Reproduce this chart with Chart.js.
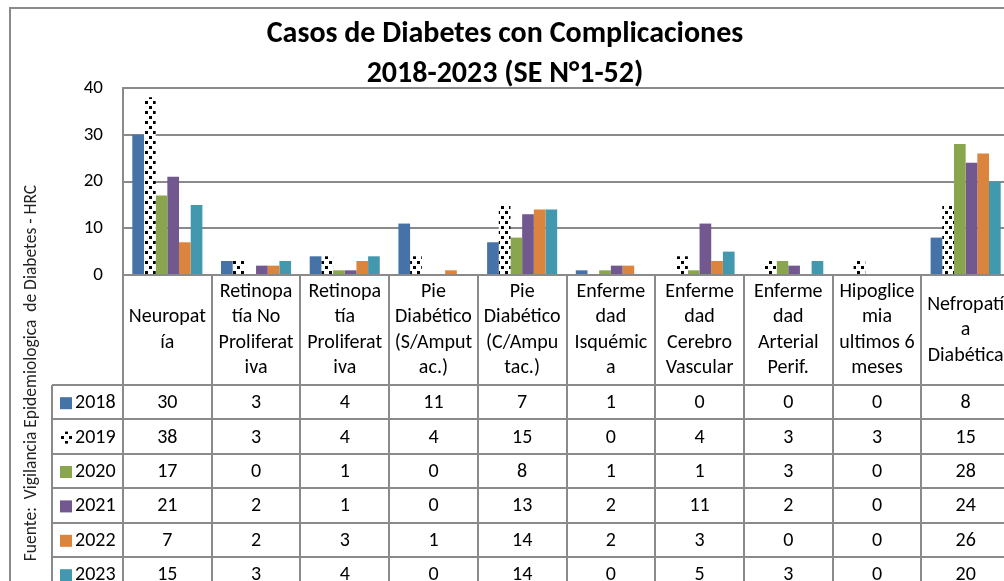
<!DOCTYPE html>
<html>
<head>
<meta charset="utf-8">
<style>
  html, body { margin: 0; padding: 0; overflow: hidden; background: #fff; }
  #wrap { position: absolute; left: 0; top: 0; width: 1040px; height: 600px; }
</style>
</head>
<body>
<div id="wrap">
	<canvas id="diabChart" width="1040" height="600"></canvas>
</div>

<script src="https://cdn.jsdelivr.net/npm/chart.js@4.4.1/dist/chart.umd.min.js"></script>

<script>
	// categories (header row of the data table, already split in lines like the original)
	const categories = [
		["Neuropat", "ía"],
		["Retinopa", "tía No", "Proliferat", "iva"],
		["Retinopa", "tía", "Proliferat", "iva"],
		["Pie", "Diabético", "(S/Amput", "ac.)"],
		["Pie", "Diabético", "(C/Ampu", "tac.)"],
		["Enferme", "dad", "Isquémic", "a"],
		["Enferme", "dad", "Cerebro", "Vascular"],
		["Enferme", "dad", "Arterial", "Perif."],
		["Hipoglice", "mia", "ultimos 6", "meses"],
		["Nefropatí", "a", "Diabética"]
	]

	const years = ["2018", "2019", "2020", "2021", "2022", "2023"]

	const y2018 = [30, 3, 4, 11, 7, 1, 0, 0, 0, 8]
	const y2019 = [38, 3, 4, 4, 15, 0, 4, 3, 3, 15]
	const y2020 = [17, 0, 1, 0, 8, 1, 1, 3, 0, 28]
	const y2021 = [21, 2, 1, 0, 13, 2, 11, 2, 0, 24]
	const y2022 = [7, 2, 3, 1, 14, 2, 3, 0, 0, 26]
	const y2023 = [15, 3, 4, 0, 14, 0, 5, 3, 0, 20]

	const yTicks = [0, 10, 20, 30, 40]

	const FONT = "Carlito, Lato, 'Open Sans', sans-serif"

	// black "confetti" dots on white, used for 2019
	function confetti() {
		const c = document.createElement("canvas")
		c.width = 8
		c.height = 10
		const g = c.getContext("2d")
		g.fillStyle = "#fff"
		g.fillRect(0, 0, 8, 10)
		g.fillStyle = "#000"
		g.fillRect(1, 1, 3, 3)
		g.fillRect(5, 6, 3, 3)
		return g.createPattern(c, "repeat")
	}
	const dots = confetti()

	const colours = ["#4572A7", dots, "#89A54E", "#71588F", "#DB843D", "#4198AF"]
	const series = [y2018, y2019, y2020, y2021, y2022, y2023]

	// frame, side note and the data table under the plot
	const tablePlugin = {
		id: "dataTable",
		beforeDraw(chart) {
			const ctx = chart.ctx
			ctx.save()
			ctx.fillStyle = "#fff"
			ctx.fillRect(0, 0, chart.width, chart.height)
			ctx.strokeStyle = "#8a8a8a"
			ctx.lineWidth = 2
			ctx.beginPath()
			ctx.moveTo(10, chart.height)
			ctx.lineTo(10, 8)
			ctx.lineTo(chart.width, 8)
			ctx.stroke()
			ctx.restore()
		},
		afterDraw(chart) {
			const ctx = chart.ctx
			const area = chart.chartArea
			const x = chart.scales.x
			const n = categories.length
			const colW = (area.right - area.left) / n
			const headTop = area.bottom
			const headBot = 385
			const rowH = 34.4
			const legLeft = 52

			ctx.save()
			// side note
			ctx.fillStyle = "#222"
			ctx.font = "17.5px " + FONT
			ctx.textAlign = "center"
			ctx.textBaseline = "middle"
			ctx.translate(32, 373)
			ctx.rotate(-Math.PI / 2)
			ctx.fillText("Fuente:  Vigilancia Epidemiologica  de Diabetes - HRC", 0, 0)
			ctx.restore()

			ctx.save()
			ctx.strokeStyle = "#8a8a8a"
			ctx.lineWidth = 2
			ctx.beginPath()
			// column lines
			for (let i = 0; i <= n; i++) {
				const xx = Math.round(area.left + i * colW)
				ctx.moveTo(xx, headTop)
				ctx.lineTo(xx, chart.height)
			}
			ctx.moveTo(legLeft, headBot)
			ctx.lineTo(legLeft, chart.height)
			// row lines
			for (let r = 0; r <= years.length; r++) {
				const yy = Math.round(headBot + r * rowH)
				ctx.moveTo(legLeft, yy)
				ctx.lineTo(chart.width, yy)
			}
			ctx.stroke()

			ctx.fillStyle = "#000"
			ctx.font = "20px " + FONT
			ctx.textAlign = "center"
			ctx.textBaseline = "middle"
			const lineH = 25.5
			const headMid = (headTop + headBot) / 2
			categories.forEach((lines, i) => {
				const cx = x.getPixelForValue(i)
				const start = headMid - (lines.length - 1) * lineH / 2
				lines.forEach((t, k) => ctx.fillText(t, cx, start + k * lineH))
			})

			series.forEach((vals, r) => {
				const cy = headBot + r * rowH + rowH / 2 + 1
				vals.forEach((v, i) => ctx.fillText(String(v), x.getPixelForValue(i), cy))
				ctx.fillStyle = colours[r]
				ctx.fillRect(60, cy - 6, 12, 12)
				ctx.fillStyle = "#000"
				ctx.textAlign = "left"
				ctx.fillText(years[r], 75, cy)
				ctx.textAlign = "center"
			})
			ctx.restore()
		}
	}

	const ctx = document.getElementById("diabChart")
	const diabChart = new Chart(ctx, {
		type: "bar",
		data: {
			labels: categories,
			datasets: years.map((yr, i) => ({
				label: yr,
				data: series[i],
				backgroundColor: colours[i],
				borderWidth: 0,
				barPercentage: 1,
				categoryPercentage: 0.79
			}))
		},
		options: {
			responsive: false,
			animation: false,
			events: [],
			layout: { padding: { top: 14, left: 0, right: 30, bottom: 0 } },
			plugins: {
				legend: { display: false },
				tooltip: { enabled: false },
				title: {
					display: true,
					text: ["Casos de Diabetes con Complicaciones", "2018-2023 (SE N°1-52)"],
					color: "#000",
					font: { family: FONT, size: 30, weight: "bold", lineHeight: 40 / 30 },
					padding: { top: 0, bottom: -6 }
				}
			},
			scales: {
				x: {
					grid: { display: false },
					border: { display: false },
					ticks: { display: false },
					afterFit: (s) => { s.height = 325 }
				},
				y: {
					min: 0,
					max: 40,
					afterBuildTicks: (s) => { s.ticks = yTicks.map(v => ({ value: v })) },
					grid: { color: "#8a8a8a", lineWidth: 2, drawTicks: false },
					border: { color: "#8a8a8a", width: 2 },
					ticks: { color: "#000", padding: 20, font: { family: FONT, size: 19 } },
					afterFit: (s) => { s.width = 123 }
				}
			}
		},
		plugins: [tablePlugin]
	})
</script>
</body>
</html>
